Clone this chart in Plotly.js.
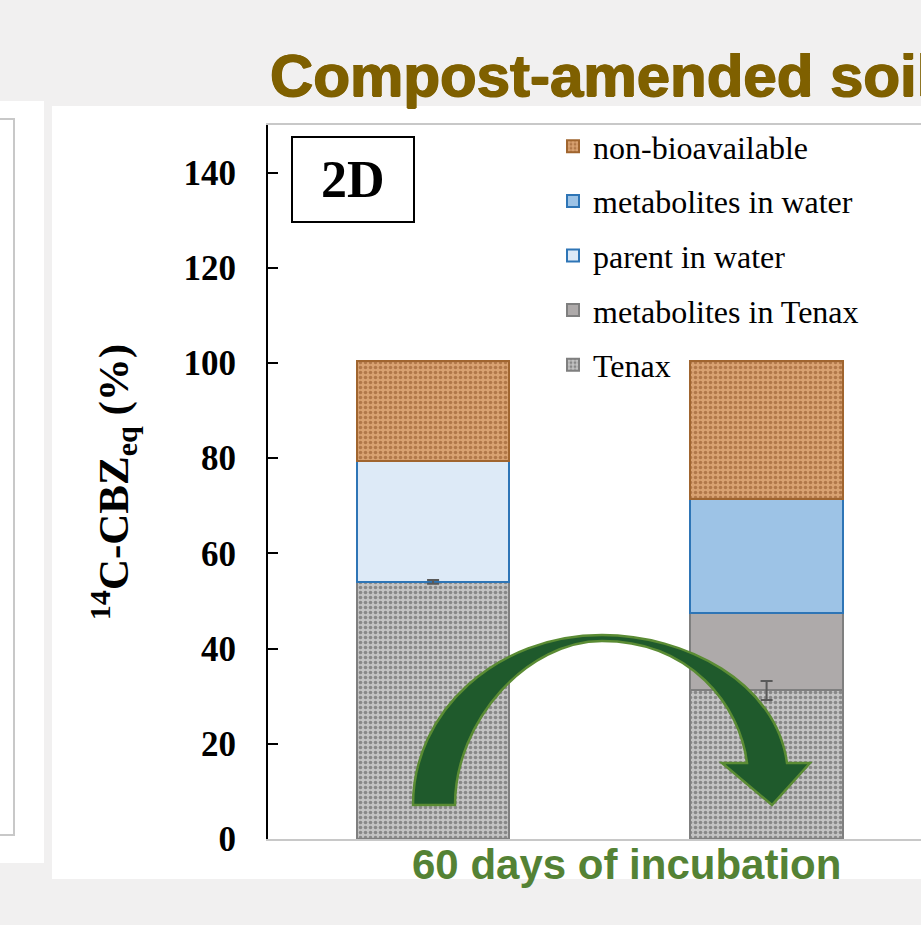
<!DOCTYPE html>
<html>
<head>
<meta charset="utf-8">
<script src="https://cdn.plot.ly/plotly-3.0.1.min.js"></script>
<style>html,body{margin:0;padding:0;background:#f1f0f0;}#chart{width:921px;height:925px;}</style>
</head>
<body>
<div id="chart"></div>
<script>
// ---- data ----
var categories = ["Day 0", "Day 60"];
var tenax = [54.0, 31.2];
var tenaxErr = [0.4, 2.0];
var metabolitesTenax = [0, 16.2];
var parentWater = [25.4, 0];
var metabolitesWater = [0, 24.1];
var nonBioavailable = [21.0, 29.0];
var yTicks = [0, 20, 40, 60, 80, 100, 120, 140];

// ---- geometry helpers (pixel -> paper) for decorations ----
var L = 268, R = 921, T = 125, B = 839;
function px(x){ return (x - L) / (R - L); }
function py(y){ return (B - y) / (B - T); }
function pathPx(cmds){
  return cmds.map(function(c){
    if (typeof c === 'string') return c;
    return px(c[0]).toFixed(5) + ',' + py(c[1]).toFixed(5);
  }).join(' ');
}

var barW = 0.4576;
function bar(name, y, fill, line, rank, pattern){
  var t = {
    type: 'bar', name: name, x: categories, y: y, width: barW,
    legendgroup: name, legendrank: rank,
    marker: {color: fill, line: {color: line, width: 2}},
    hoverinfo: 'name+y'
  };
  if (pattern) t.marker.pattern = pattern;
  return t;
}

var traces = [
  bar('Tenax', tenax, '#c0c0c0', '#7f7f7f', 5,
      {shape: '.', bgcolor: '#c3c3c3', fgcolor: '#4e4e4e', size: 5, solidity: 0.42, fillmode: 'overlay'}),
  bar('metabolites in Tenax', metabolitesTenax, '#aeaaaa', '#7f7f7f', 4, null),
  bar('parent in water', parentWater, '#ddeaf7', '#2e75b6', 3, null),
  bar('metabolites in water', metabolitesWater, '#9dc3e6', '#2e75b6', 2, null),
  bar('non-bioavailable', nonBioavailable, '#d69c6a', '#a0652f', 1,
      {shape: '.', bgcolor: '#d9a271', fgcolor: '#8a4e22', size: 5, solidity: 0.4, fillmode: 'overlay'}),
  // error bars of the Tenax fraction, drawn on top of the stack
  {type: 'scatter', mode: 'markers', x: categories, y: tenax, showlegend: false,
   marker: {size: 1, opacity: 0}, hoverinfo: 'skip',
   error_y: {type: 'data', array: tenaxErr, visible: true, color: '#595959', thickness: 2, width: 6}}
];

var arrowPath = pathPx([
  'M', [413, 805],
  'C', [413, 711], [497, 635], [602, 635],
  'C', [685, 635], [776, 682], [787, 763],
  'L', [810, 763],
  'L', [772, 805],
  'L', [722, 763],
  'L', [747, 763],
  'C', [740, 705], [690, 641], [602, 641],
  'C', [528, 641], [455, 720], [455, 805],
  'Z'
]);

var shapes = [
  // left neighbouring panel
  {type: 'rect', xref: 'paper', yref: 'paper', x0: px(-5), x1: px(44), y0: py(863), y1: py(101),
   fillcolor: '#ffffff', line: {width: 0}, layer: 'below'},
  {type: 'rect', xref: 'paper', yref: 'paper', x0: px(-10), x1: px(14), y0: py(835), y1: py(119),
   fillcolor: 'rgba(0,0,0,0)', line: {color: '#c8c8c8', width: 2}, layer: 'below'},
  // main white panel
  {type: 'rect', xref: 'paper', yref: 'paper', x0: px(52), x1: px(930), y0: py(879), y1: py(106),
   fillcolor: '#ffffff', line: {width: 0}, layer: 'below'},
  // 2D label box
  {type: 'rect', xref: 'paper', yref: 'paper', x0: px(292), x1: px(414), y0: py(222), y1: py(137),
   fillcolor: '#ffffff', line: {color: '#000000', width: 2}},
  // curved arrow
  {type: 'path', xref: 'paper', yref: 'paper', path: arrowPath,
   fillcolor: '#1f5a2c', line: {color: '#5b8c34', width: 2.5}}
];

var annotations = [
  {xref: 'paper', yref: 'paper', x: px(268), y: py(75), xanchor: 'left', yanchor: 'middle',
   text: '<b>Compost-amended soil</b>', showarrow: false,
   font: {family: 'Liberation Sans, Arial, sans-serif', size: 60, color: '#7f6000',
          shadow: '0.8px 0 0 #7f6000, -0.8px 0 0 #7f6000, 0 0.8px 0 #7f6000'}},
  {xref: 'paper', yref: 'paper', x: px(353), y: py(180), xanchor: 'center', yanchor: 'middle',
   text: '<b>2D</b>', showarrow: false,
   font: {family: 'Liberation Serif, Times New Roman, serif', size: 52, color: '#000000'}},
  {xref: 'paper', yref: 'paper', x: px(626), y: py(864), xanchor: 'center', yanchor: 'middle',
   text: '<b>60 days of incubation</b>', showarrow: false,
   font: {family: 'Liberation Sans, Arial, sans-serif', size: 42, color: '#548235'}}
];

var layout = {
  width: 921, height: 925,
  margin: {l: L, r: 921 - R, t: T, b: 925 - B, pad: 0},
  paper_bgcolor: '#f1f0f0',
  plot_bgcolor: 'rgba(0,0,0,0)',
  barmode: 'stack',
  showlegend: true,
  legend: {
    x: px(553), y: py(119), xanchor: 'left', yanchor: 'top',
    traceorder: 'grouped', tracegroupgap: 10,
    bgcolor: 'rgba(0,0,0,0)', borderwidth: 0,
    font: {family: 'Liberation Serif, Times New Roman, serif', size: 32, color: '#000000'}
  },
  xaxis: {
    type: 'category', range: [-0.495, 1.463],
    showticklabels: false, ticks: '', showgrid: false, zeroline: false,
    showline: true, linecolor: '#c8c8c8', linewidth: 2, mirror: true, fixedrange: true
  },
  yaxis: {
    range: [0, 150], tickvals: yTicks, ticktext: yTicks.map(String),
    ticks: 'inside', ticklen: 10, tickwidth: 2, tickcolor: '#000000',
    showline: true, linecolor: '#000000', linewidth: 2,
    showgrid: false, zeroline: false, ticklabelstandoff: 23,
    tickfont: {family: 'Liberation Serif, Times New Roman, serif', size: 35, color: '#000000', weight: 'bold'},
    title: {text: '<b><sup>14</sup>C-CBZ<sub>eq</sub> (%)</b>', standoff: 41,
            font: {family: 'Liberation Serif, Times New Roman, serif', size: 43, color: '#000000'}},
    automargin: false, fixedrange: true
  },
  shapes: shapes,
  annotations: annotations,
  font: {family: 'Liberation Serif, Times New Roman, serif'}
};

Plotly.newPlot('chart', traces, layout, {displayModeBar: false, staticPlot: true});
</script>
</body>
</html>
